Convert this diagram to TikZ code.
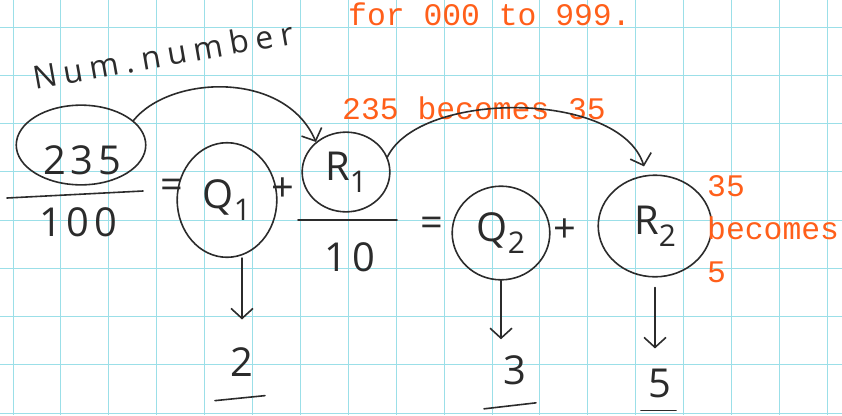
\documentclass[tikz,border=0pt]{standalone}
\usepackage{fontspec}
\setmainfont{Open Sans}
\newfontfamily\handfont[LetterSpace=12]{Open Sans}
\newfontfamily\wideHand[LetterSpace=22]{Open Sans}
\newfontfamily\notefont{Liberation Mono}
\usetikzlibrary{arrows.meta,shapes.geometric}
\definecolor{pen}{HTML}{2B2B2B}
\definecolor{gridcyan}{HTML}{9BDFE8}
\definecolor{notecol}{HTML}{FF5F1A}
\newcommand{\lowidx}[1]{\raisebox{-0.3em}{\fontsize{30}{30}\selectfont#1}}
\tikzset{
  ring/.style={
    ellipse,
    draw=pen,
    line width=1.6pt,
    inner sep=0pt,
    text=pen,
    font=\handfont\fontsize{40}{44}\selectfont
  },
  hand/.style={
    text=pen,
    inner sep=0pt,
    font=\handfont\fontsize{40}{44}\selectfont
  },
  penline/.style={
    draw=pen,
    line width=1.6pt,
    line cap=round
  },
  penarrow/.style={
    penline,
    -{Straight Barb[length=10pt,width=22pt]}
  },
  note/.style={
    text=notecol,
    inner sep=0pt,
    font=\notefont\fontsize{31.5}{43.5}\selectfont
  }
}
\begin{document}
\begin{tikzpicture}[x=1bp, y=-1bp]
  \useasboundingbox[fill=white] (0,0) rectangle (842,415);
  \foreach \i in {0,...,17}
    \draw[gridcyan, line width=1bp] ({13+47.9*\i},0) -- ({13+47.9*\i},415);
  \foreach \j in {0,...,8}
    \draw[gridcyan, line width=1bp] (0,{27+48.25*\j}) -- (842,{27+48.25*\j});

  \node[hand, font=\wideHand\fontsize{32}{36}\selectfont, rotate=10] (title) at (163,55) {Num.number};
  \node[note, anchor=base west] (range) at (348,25) {for 000 to 999.};

  \node[ring, minimum width=130, minimum height=80] (num) at (81,145) {};
  \node[hand] (numtxt) at (82,160) {235};
  \draw[penline] (7,198) -- (143,191);
  \node[hand] (den) at (78,222) {100};
  \node[hand] (eq1) at (172,189) {=};
  \node[ring, minimum width=100, minimum height=115] (q1) at (227,200) {Q\lowidx{1}};
  \node[hand] (plus1) at (283,190) {+};
  \node[ring, minimum width=88, minimum height=80] (r1) at (346,172) {R\lowidx{1}};
  \draw[penline] (298,220) -- (397,220);
  \node[hand] (den2) at (350,257) {10};
  \node[hand] (eq2) at (432,227) {=};
  \node[ring, minimum width=98, minimum height=94] (q2) at (501,233) {Q\lowidx{2}};
  \node[hand] (plus2) at (565,231) {+};
  \node[ring, minimum width=114, minimum height=102] (r2) at (655,226) {R\lowidx{2}};

  \node[hand] (d1) at (242,362) {2};
  \node[hand] (d2) at (515,370) {3};
  \node[hand] (d3) at (660,383) {5};

  \node[note, anchor=base west] (shift1) at (342,119) {235 becomes 35};
  \node[note, anchor=north west, align=left] (shift2) at (707,175) {35\\becomes\\5};

  \draw[penarrow] (num.25) .. controls (170,75) and (285,70) .. (r1.135);
  \draw[penarrow] (r1.20) .. controls (420,90) and (620,90) .. ([shift={(-11,-8)}]r2.north);
  \draw[penarrow, shorten >=28pt] (d1 |- q1.south) -- (d1.north);
  \draw[penarrow, shorten >=16pt] (q2.south) -- (q2.south |- d2.north);
  \draw[penarrow, shorten <=10pt, shorten >=20pt] (r2.south) -- (r2.south |- d3.north);

  \draw[penline] ([shift={(-27,24)}]d1.south) -- ([shift={(23,19)}]d1.south);
  \draw[penline] ([shift={(-31,24)}]d2.south) -- ([shift={(21,18)}]d2.south);
  \draw[penline] ([shift={(-19,13)}]d3.south) -- ([shift={(16,13)}]d3.south);
\end{tikzpicture}
\end{document}
